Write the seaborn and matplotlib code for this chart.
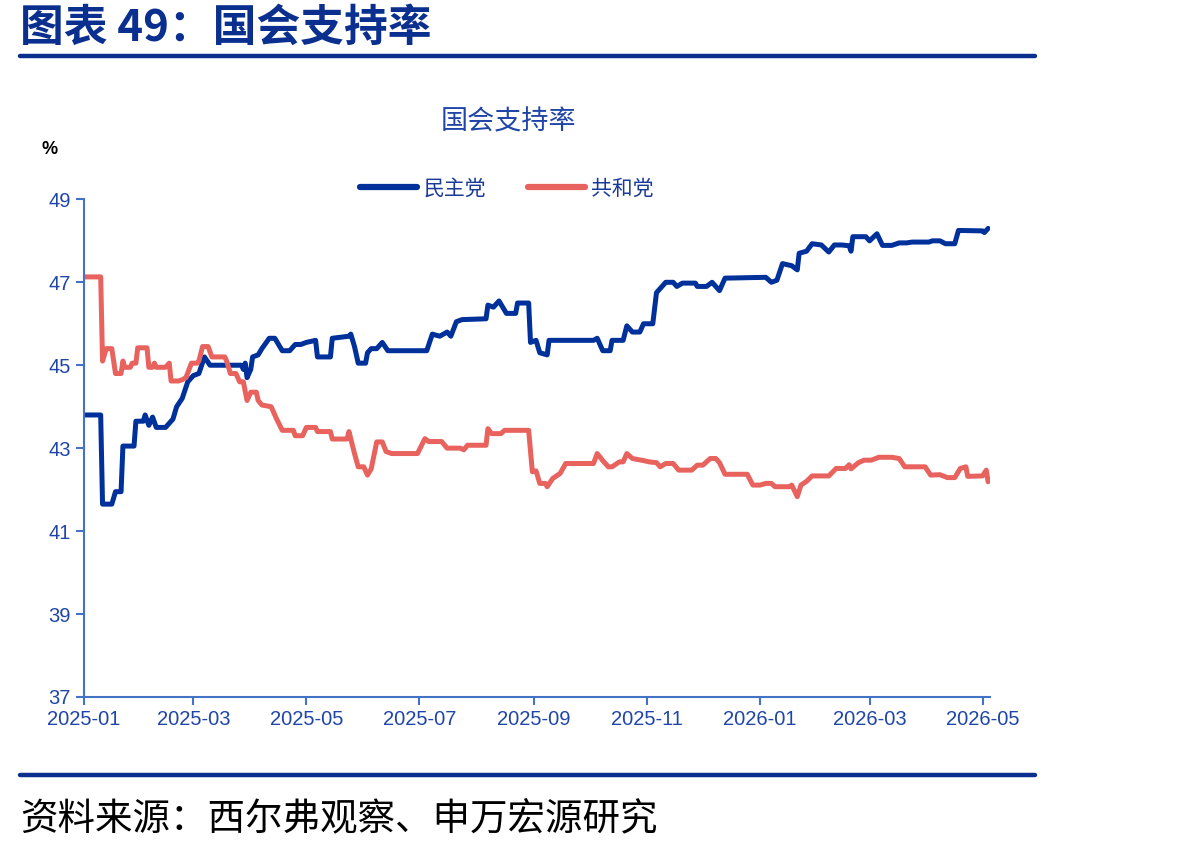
import numpy as np
import pandas as pd
import seaborn as sns
import matplotlib.pyplot as plt
import matplotlib.dates as mdates

# 民主党 support (%)
dem_dates = [
    "2025-01-01", "2025-01-10", "2025-01-11", "2025-01-16", "2025-01-18", "2025-01-21",
    "2025-01-22", "2025-01-28", "2025-01-29", "2025-02-02", "2025-02-03", "2025-02-05",
    "2025-02-07", "2025-02-09", "2025-02-14", "2025-02-18", "2025-02-20", "2025-02-23",
    "2025-02-26", "2025-03-01", "2025-03-04", "2025-03-07", "2025-03-10", "2025-03-27",
    "2025-03-28", "2025-03-29", "2025-03-30", "2025-04-01", "2025-04-02", "2025-04-05",
    "2025-04-07", "2025-04-11", "2025-04-14", "2025-04-16", "2025-04-18", "2025-04-22",
    "2025-04-25", "2025-04-28", "2025-05-01", "2025-05-06", "2025-05-07", "2025-05-14",
    "2025-05-15", "2025-05-24", "2025-05-25", "2025-05-27", "2025-05-29", "2025-06-02",
    "2025-06-03", "2025-06-05", "2025-06-08", "2025-06-11", "2025-06-14", "2025-07-05",
    "2025-07-08", "2025-07-12", "2025-07-16", "2025-07-18", "2025-07-21", "2025-07-24",
    "2025-08-06", "2025-08-07", "2025-08-10", "2025-08-13", "2025-08-17", "2025-08-22",
    "2025-08-23", "2025-08-29", "2025-08-30", "2025-09-02", "2025-09-04", "2025-09-08",
    "2025-09-09", "2025-10-03", "2025-10-05", "2025-10-08", "2025-10-12", "2025-10-13",
    "2025-10-19", "2025-10-21", "2025-10-24", "2025-10-28", "2025-10-30", "2025-11-04",
    "2025-11-06", "2025-11-09", "2025-11-11", "2025-11-15", "2025-11-17", "2025-11-20",
    "2025-11-27", "2025-11-28", "2025-12-03", "2025-12-06", "2025-12-10", "2025-12-13",
    "2026-01-04", "2026-01-07", "2026-01-10", "2026-01-13", "2026-01-18", "2026-01-21",
    "2026-01-22", "2026-01-26", "2026-01-29", "2026-02-03", "2026-02-07", "2026-02-10",
    "2026-02-14", "2026-02-18", "2026-02-19", "2026-02-20", "2026-02-27", "2026-03-01",
    "2026-03-05", "2026-03-08", "2026-03-13", "2026-03-17", "2026-03-21", "2026-03-24",
    "2026-04-02", "2026-04-04", "2026-04-08", "2026-04-11", "2026-04-16", "2026-04-18",
    "2026-05-01", "2026-05-02", "2026-05-04",
]
dem_values = [
    43.8, 43.8, 41.65, 41.65, 41.95, 41.95,
    43.05, 43.05, 43.65, 43.65, 43.8, 43.55,
    43.75, 43.5, 43.5, 43.7, 44.0, 44.2,
    44.6, 44.75, 44.8, 45.2, 45.0, 45.0,
    44.9, 45.05, 44.7, 44.9, 45.2, 45.25,
    45.4, 45.65, 45.65, 45.5, 45.35, 45.35,
    45.5, 45.5, 45.55, 45.6, 45.2, 45.2,
    45.65, 45.7, 45.75, 45.45, 45.05, 45.05,
    45.3, 45.4, 45.4, 45.55, 45.35, 45.35,
    45.75, 45.7, 45.8, 45.7, 46.05, 46.1,
    46.12, 46.45, 46.4, 46.55, 46.25, 46.25,
    46.5, 46.5, 45.55, 45.6, 45.3, 45.25,
    45.6, 45.6, 45.65, 45.35, 45.35, 45.6,
    45.6, 45.95, 45.8, 45.8, 46.0, 46.0,
    46.75, 46.9, 47.0, 47.0, 46.9, 46.98,
    46.98, 46.9, 46.9, 47.0, 46.8, 47.1,
    47.12, 47.0, 47.05, 47.45, 47.4, 47.3,
    47.7, 47.75, 47.93, 47.9, 47.73, 47.9,
    47.9, 47.88, 47.75, 48.1, 48.1, 48.0,
    48.17, 47.89, 47.89, 47.95, 47.95, 47.97,
    47.97, 48.0, 48.0, 47.93, 47.93, 48.25,
    48.24, 48.2, 48.3,
]

# 共和党 support (%)
rep_dates = [
    "2025-01-01", "2025-01-10", "2025-01-11", "2025-01-13", "2025-01-16", "2025-01-18",
    "2025-01-21", "2025-01-22", "2025-01-23", "2025-01-26", "2025-01-27", "2025-01-29",
    "2025-01-30", "2025-02-04", "2025-02-05", "2025-02-07", "2025-02-08", "2025-02-09",
    "2025-02-14", "2025-02-16", "2025-02-17", "2025-02-21", "2025-02-23", "2025-02-25",
    "2025-02-28", "2025-03-03", "2025-03-04", "2025-03-06", "2025-03-09", "2025-03-11",
    "2025-03-18", "2025-03-19", "2025-03-21", "2025-03-24", "2025-03-26", "2025-03-28",
    "2025-03-30", "2025-04-01", "2025-04-04", "2025-04-05", "2025-04-07", "2025-04-12",
    "2025-04-15", "2025-04-18", "2025-04-24", "2025-04-25", "2025-04-29", "2025-05-01",
    "2025-05-06", "2025-05-07", "2025-05-14", "2025-05-15", "2025-05-23", "2025-05-24",
    "2025-05-27", "2025-05-29", "2025-06-01", "2025-06-03", "2025-06-05", "2025-06-08",
    "2025-06-11", "2025-06-13", "2025-06-16", "2025-06-30", "2025-07-04", "2025-07-06",
    "2025-07-13", "2025-07-16", "2025-07-23", "2025-07-25", "2025-07-27", "2025-08-06",
    "2025-08-07", "2025-08-09", "2025-08-14", "2025-08-16", "2025-08-29", "2025-08-31",
    "2025-09-02", "2025-09-04", "2025-09-07", "2025-09-08", "2025-09-11", "2025-09-15",
    "2025-09-18", "2025-10-03", "2025-10-05", "2025-10-08", "2025-10-11", "2025-10-13",
    "2025-10-17", "2025-10-19", "2025-10-21", "2025-10-24", "2025-10-30", "2025-11-02",
    "2025-11-06", "2025-11-08", "2025-11-11", "2025-11-15", "2025-11-18", "2025-11-25",
    "2025-11-28", "2025-12-01", "2025-12-05", "2025-12-08", "2025-12-10", "2025-12-13",
    "2025-12-25", "2025-12-28", "2026-01-01", "2026-01-04", "2026-01-07", "2026-01-09",
    "2026-01-17", "2026-01-18", "2026-01-21", "2026-01-23", "2026-01-26", "2026-01-29",
    "2026-02-07", "2026-02-11", "2026-02-16", "2026-02-18", "2026-02-19", "2026-02-23",
    "2026-02-26", "2026-03-02", "2026-03-06", "2026-03-13", "2026-03-17", "2026-03-20",
    "2026-03-31", "2026-04-03", "2026-04-08", "2026-04-12", "2026-04-16", "2026-04-19",
    "2026-04-22", "2026-04-23", "2026-05-01", "2026-05-03", "2026-05-04",
]
rep_values = [
    47.13, 47.13, 45.1, 45.4, 45.4, 44.8,
    44.8, 45.1, 44.95, 44.95, 45.05, 45.05,
    45.42, 45.42, 44.95, 44.95, 45.05, 44.95,
    44.95, 45.05, 44.62, 44.62, 44.65, 44.7,
    45.05, 45.05, 45.1, 45.45, 45.45, 45.2,
    45.2, 45.1, 44.8, 44.8, 44.6, 44.6,
    44.15, 44.35, 44.35, 44.15, 44.04, 44.0,
    43.7, 43.43, 43.43, 43.3, 43.3, 43.5,
    43.5, 43.4, 43.4, 43.22, 43.22, 43.4,
    42.87, 42.55, 42.55, 42.35, 42.5, 43.15,
    43.15, 42.92, 42.87, 42.87, 43.23, 43.16,
    43.16, 43.0, 43.0, 42.96, 43.07, 43.07,
    43.47, 43.35, 43.35, 43.43, 43.43, 42.43,
    42.45, 42.15, 42.15, 42.07, 42.27, 42.39,
    42.63, 42.63, 42.87, 42.7, 42.55, 42.55,
    42.67, 42.67, 42.87, 42.75, 42.7, 42.67,
    42.65, 42.55, 42.63, 42.63, 42.47, 42.47,
    42.59, 42.59, 42.75, 42.75, 42.65, 42.37,
    42.37, 42.11, 42.11, 42.15, 42.15, 42.07,
    42.07, 42.11, 41.83, 42.11, 42.2, 42.33,
    42.33, 42.51, 42.51, 42.6, 42.5, 42.65,
    42.71, 42.71, 42.78, 42.78, 42.75, 42.55,
    42.55, 42.35, 42.36, 42.29, 42.29, 42.51,
    42.55, 42.32, 42.33, 42.47, 42.19,
]

parties = ["民主党", "共和党"]
colors = ["#00309a", "#e8625e"]

df = pd.concat([
    pd.DataFrame({"date": pd.to_datetime(dem_dates), "value": dem_values, "party": parties[0]}),
    pd.DataFrame({"date": pd.to_datetime(rep_dates), "value": rep_values, "party": parties[1]}),
])

sns.set_theme(style="white")
plt.rcParams["font.family"] = ["Noto Sans CJK SC", "DejaVu Sans"]

navy = "#0a2f8f"
axis_blue = "#4472c4"
label_blue = "#1f45a8"
legend_blue = "#1a3a9a"

fig = plt.figure(figsize=(11.9, 8.52), dpi=100)
ax = fig.add_axes([0.0706, 0.182, 0.7613, 0.584])

sns.lineplot(data=df, x="date", y="value", hue="party", hue_order=parties,
             palette=colors, linewidth=3.6, ax=ax, estimator=None, sort=False)

ax.set_ylim(37, 49)
ax.set_yticks([37, 39, 41, 43, 45, 47, 49])
ax.set_xlim(pd.Timestamp("2025-01-01"), pd.Timestamp("2026-05-05"))
ax.xaxis.set_major_locator(mdates.MonthLocator(bymonth=[1, 3, 5, 7, 9, 11]))
ax.xaxis.set_major_formatter(mdates.DateFormatter("%Y-%m"))
ax.set_xlabel("")
ax.set_ylabel("")

for side in ["top", "right"]:
    ax.spines[side].set_visible(False)
for side in ["left", "bottom"]:
    ax.spines[side].set_color(axis_blue)
    ax.spines[side].set_linewidth(1.5)
ax.tick_params(axis="both", which="major", direction="out", length=6, width=1.5,
               color=axis_blue, labelcolor=label_blue, labelsize=14.5, bottom=True, left=True)
for lbl in ax.get_xticklabels() + ax.get_yticklabels():
    lbl.set_fontfamily("Liberation Sans")

leg = ax.legend(loc="center", bbox_to_anchor=(0.467, 1.022), ncol=2, frameon=False,
                fontsize=15, handlelength=2.75, columnspacing=2.0, handletextpad=0.3)
for line in leg.get_lines():
    line.set_linewidth(4.5)
for t in leg.get_texts():
    t.set_color(legend_blue)

fig.text(508 / 1190, 1 - 122 / 852, "国会支持率", ha="center", va="center", fontsize=19.5, color=label_blue)
fig.text(50 / 1190, 1 - 150 / 852, "%", ha="center", va="center", fontsize=13,
         color="black", fontweight="bold", family="Liberation Sans")

# header and footer
fig.text(20 / 1190, 1 - 28 / 852, "图表 49：国会支持率", ha="left", va="center",
         fontsize=31.5, fontweight="bold", color=navy)
fig.add_artist(plt.Line2D([20 / 1190, 1035 / 1190], [1 - 56 / 852, 1 - 56 / 852],
                          color=navy, linewidth=3.2))
fig.add_artist(plt.Line2D([20 / 1190, 1035 / 1190], [1 - 775 / 852, 1 - 775 / 852],
                          color=navy, linewidth=3.2))
fig.text(20 / 1190, 1 - 820 / 852, "资料来源：西尔弗观察、申万宏源研究", ha="left", va="center",
         fontsize=27, color="black")

fig.savefig("out.png", dpi=100)
